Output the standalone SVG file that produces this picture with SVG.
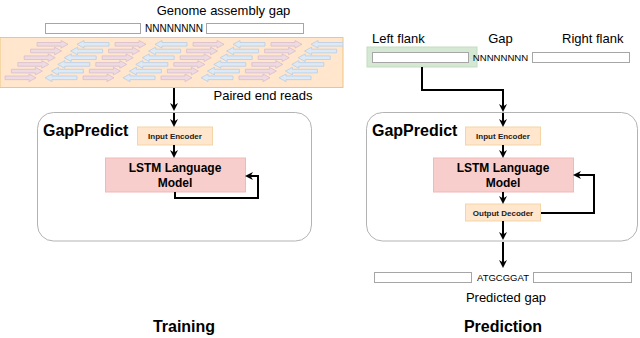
<svg xmlns="http://www.w3.org/2000/svg" width="640" height="338" viewBox="0 0 640 338">
<style>
text{font-family:"Liberation Sans",Arial,sans-serif;fill:#000}
.lbl{font-size:13px}
.seq{font-size:10px}
.big{font-size:16px;font-weight:bold}
.sm{font-size:8px;font-weight:bold;fill:#222}
.md{font-size:12px;font-weight:bold}
.flank{fill:#fff;stroke:#a6a6a6;stroke-width:1}
.cont{fill:#fff;stroke:#b3b3b3;stroke-width:1}
.enc{fill:#ffe6cc;stroke:#f3d5a6;stroke-width:1}
.lstm{fill:#f8cecc;stroke:#efb9b7;stroke-width:1}
.conn{fill:none;stroke:#000;stroke-width:2}
.pk{fill:#eedbe2;stroke:#d8bccb;stroke-width:0.8}
.bl{fill:#dde9f5;stroke:#b9cde3;stroke-width:0.8}
</style>
<defs>
<marker id="ah" viewBox="0 0 10 10" refX="6.25" refY="5" markerWidth="8" markerHeight="8" markerUnits="userSpaceOnUse" orient="auto">
<path d="M0,0 L10,5 L0,10 L3,5 Z" fill="#000"/>
</marker>
<polygon id="pa" class="pk" points="0,-1.8 24,-1.8 24,-3.8 31,0 24,3.8 24,1.8 0,1.8"/>
<polygon id="ba" class="bl" points="32,-1.8 7,-1.8 7,-3.8 0,0 7,3.8 7,1.8 32,1.8"/>
<g id="row">
<use href="#pa" x="37"/><use href="#ba" x="77"/>
<use href="#pa" x="115"/><use href="#ba" x="155"/>
<use href="#pa" x="193"/><use href="#ba" x="233"/>
<use href="#pa" x="271"/><use href="#ba" x="311"/>
</g>
<clipPath id="bandclip"><rect x="0" y="37.5" width="343" height="50"/></clipPath>
</defs>
<rect width="640" height="338" fill="#fff"/>

<!-- Training side -->
<g id="genome-gap">
<text class="lbl" x="223.5" y="14.5" text-anchor="middle">Genome assembly gap</text>
<rect class="flank" x="45.5" y="23.5" width="95" height="10"/>
<text class="seq" x="174" y="31.8" text-anchor="middle">NNNNNNNN</text>
<rect class="flank" x="206.5" y="23.5" width="97" height="10"/>
</g>

<g id="paired-reads">
<rect x="0" y="37.5" width="343" height="50" fill="#ffe6cc" stroke="#f0c57e" stroke-width="1"/>
<g clip-path="url(#bandclip)">
<use href="#row" transform="translate(0,44.3)"/>
<use href="#row" transform="translate(-6.4,51)"/>
<use href="#row" transform="translate(-12.8,57.7)"/>
<use href="#row" transform="translate(-19.2,64.4)"/>
<use href="#row" transform="translate(-25.6,71.1)"/>
<use href="#row" transform="translate(-32,77.8)"/>
</g>
<text class="lbl" x="263" y="99.5" text-anchor="middle">Paired end reads</text>
</g>

<g id="gappredict-train">
<rect class="cont" x="37.5" y="112.5" width="274" height="128.5" rx="16"/>
<text class="big" x="43" y="136">GapPredict</text>
</g>
<g id="input-encoder-train">
<rect class="enc" x="137.5" y="127" width="75" height="18"/>
<text class="sm" x="175" y="139" text-anchor="middle">Input Encoder</text>
</g>
<g id="lstm-train">
<rect class="lstm" x="105.5" y="158" width="140" height="34"/>
<text class="md" x="175" y="171.5" text-anchor="middle">LSTM Language</text>
<text class="md" x="175" y="186.5" text-anchor="middle">Model</text>
</g>
<text class="big" x="184" y="332" text-anchor="middle">Training</text>

<!-- Prediction side -->
<g id="flanks">
<text class="lbl" x="372" y="43">Left flank</text>
<text class="lbl" x="500.5" y="43" text-anchor="middle">Gap</text>
<text class="lbl" x="562" y="43">Right flank</text>
<rect x="367" y="47" width="110" height="20" fill="#d5e8d4" stroke="#c3dbc0" stroke-width="1"/>
<rect class="flank" x="372.5" y="52.5" width="96" height="10"/>
<text class="seq" x="500.5" y="60.8" text-anchor="middle" style="font-size:9.6px">NNNNNNNN</text>
<rect class="flank" x="532.5" y="52.5" width="97" height="10"/>
</g>

<g id="gappredict-pred">
<rect class="cont" x="366.5" y="112.5" width="271" height="128.5" rx="16"/>
<text class="big" x="372" y="136">GapPredict</text>
</g>
<g id="input-encoder-pred">
<rect class="enc" x="465.5" y="127" width="75" height="18"/>
<text class="sm" x="503" y="139" text-anchor="middle">Input Encoder</text>
</g>
<g id="lstm-pred">
<rect class="lstm" x="433.5" y="158" width="140" height="34"/>
<text class="md" x="503" y="171.5" text-anchor="middle">LSTM Language</text>
<text class="md" x="503" y="186.5" text-anchor="middle">Model</text>
</g>
<g id="output-decoder">
<rect class="enc" x="465.5" y="204" width="75" height="17"/>
<text class="sm" x="503" y="215.5" text-anchor="middle">Output Decoder</text>
</g>
<g id="predicted-gap">
<rect class="flank" x="374.5" y="272.5" width="97" height="10"/>
<text class="seq" x="503" y="280.8" text-anchor="middle" style="font-size:9.5px">ATGCGGAT</text>
<rect class="flank" x="533.5" y="272.5" width="98" height="10"/>
<text class="lbl" x="506" y="302" text-anchor="middle">Predicted gap</text>
</g>
<text class="big" x="503" y="332" text-anchor="middle">Prediction</text>

<g id="connectors">
<path class="conn" marker-end="url(#ah)" d="M174,88 V108"/>
<path class="conn" marker-end="url(#ah)" d="M174,113 V124"/>
<path class="conn" marker-end="url(#ah)" d="M174,145 V155"/>
<path class="conn" marker-end="url(#ah)" d="M175,192 V198 H258 V176 H248"/>
<path class="conn" marker-end="url(#ah)" d="M422,67 V90 H503 V109"/>
<path class="conn" marker-end="url(#ah)" d="M503,113 V124"/>
<path class="conn" marker-end="url(#ah)" d="M503,145 V155"/>
<path class="conn" marker-end="url(#ah)" d="M503,192 V201"/>
<path class="conn" marker-end="url(#ah)" d="M541,213 H594 V175 H576"/>
<path class="conn" marker-end="url(#ah)" d="M503,221 V237"/>
<path class="conn" marker-end="url(#ah)" d="M503,242 V265"/>
</g>
</svg>
